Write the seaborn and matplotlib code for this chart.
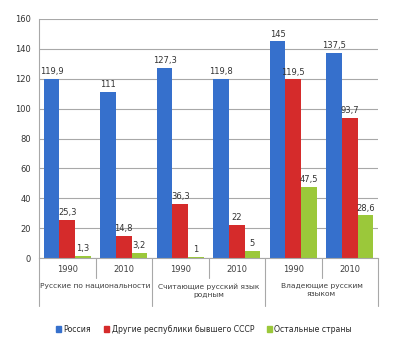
import matplotlib
matplotlib.use("Agg")
import matplotlib.pyplot as plt
import seaborn as sns
import pandas as pd

groups = ["Русские по национальности", "Считающие русский язык\nродным", "Владеющие русским\nязыком"]
years = ["1990", "2010", "1990", "2010", "1990", "2010"]
series = ["Россия", "Другие республики бывшего СССР", "Остальные страны"]
russia = [119.9, 111, 127.3, 119.8, 145, 137.5]
other_ussr = [25.3, 14.8, 36.3, 22, 119.5, 93.7]
rest = [1.3, 3.2, 1, 5, 47.5, 28.6]
colors = ["#3670CC", "#D52B2B", "#9BC83A"]
yticks = [0, 20, 40, 60, 80, 100, 120, 140, 160]

positions = [f"p{i}" for i in range(6)]
rows = []
for name, vals in zip(series, [russia, other_ussr, rest]):
    for p, v in zip(positions, vals):
        rows.append({"pos": p, "series": name, "value": v})
df = pd.DataFrame(rows)

sns.set_style("white")
plt.rcParams["font.family"] = ["DejaVu Sans"]

fig = plt.figure(figsize=(3.98, 3.43), dpi=100)
ax = fig.add_axes([39/398, 1-258/343, 339/398, 239/343])
ax.set_axisbelow(True)
for t in yticks:
    ax.axhline(t, color="#A8A8A8", lw=0.8, zorder=0)

sns.barplot(data=df, x="pos", y="value", hue="series", order=positions,
            hue_order=series, palette=colors, width=0.83, ax=ax,
            edgecolor="none", linewidth=0, legend=False, saturation=1)

def fmt(v):
    s = f"{v:g}"
    return s.replace(".", ",")

for cont, vals in zip(ax.containers, [russia, other_ussr, rest]):
    ax.bar_label(cont, labels=[fmt(v) for v in vals], fontsize=6, padding=2, color="#333333")

ax.set_xlim(-0.5, 5.5)
ax.set_ylim(0, 160)
ax.set_yticks(yticks)
ax.set_yticklabels([str(t) for t in yticks], fontsize=6, color="#333333")
ax.tick_params(axis="y", length=3, color="#A8A8A8", pad=3)
ax.set_xticks([])
ax.set_xlabel("")
ax.set_ylabel("")
for s in ["top", "right"]:
    ax.spines[s].set_visible(False)
ax.spines["left"].set_color("#A8A8A8")
ax.spines["bottom"].set_color("#A8A8A8")
ax.spines["left"].set_linewidth(0.8)
ax.spines["bottom"].set_linewidth(0.8)

trans = ax.get_xaxis_transform()
def fy(py):
    # pixel y (from top) to axes fraction
    return (258 - py) / 239

for i, y in enumerate(years):
    ax.text(i, fy(269), y, ha="center", va="center", fontsize=6, color="#404040",
            transform=trans, clip_on=False)
for xb in [-0.5, 0.5, 1.5, 2.5, 3.5, 4.5, 5.5]:
    long = xb in (-0.5, 1.5, 3.5, 5.5)
    ax.plot([xb, xb], [0, fy(306 if long else 278)], transform=trans, color="#A8A8A8",
            lw=0.8, clip_on=False)
for g, name in enumerate(groups):
    ax.text(2*g + 0.5, fy(283), name, ha="center", va="top", fontsize=5.4, color="#404040",
            transform=trans, clip_on=False, linespacing=1.45)

handles = [plt.Rectangle((0, 0), 1, 1, color=c) for c in colors]
fig.legend(handles, series, loc="center", bbox_to_anchor=(204/398, 1-329/343), ncol=3,
           frameon=False, fontsize=5.6, handlelength=0.7, handleheight=0.7,
           handletextpad=0.3, columnspacing=1.6)

fig.savefig("out.png", dpi=100)
